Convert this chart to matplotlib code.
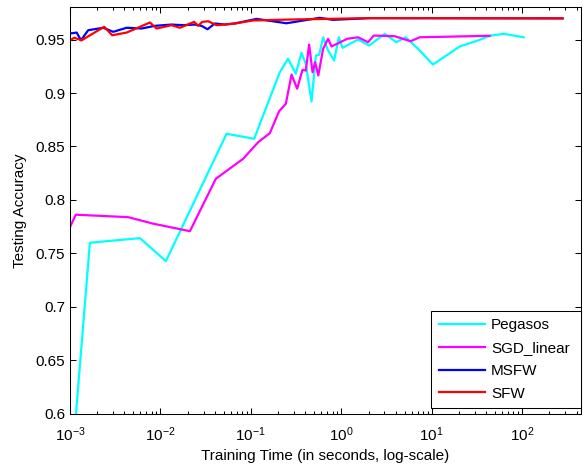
import numpy as np
import matplotlib
matplotlib.use("Agg")
import matplotlib.pyplot as plt
from matplotlib.ticker import FixedLocator, FuncFormatter, LogLocator

plt.rcParams['font.family'] = ['Liberation Sans', 'DejaVu Sans']
plt.rcParams['mathtext.fontset'] = 'custom'
plt.rcParams['mathtext.rm'] = 'Liberation Sans'
plt.rcParams['mathtext.it'] = 'Liberation Sans'

# values (time in seconds, accuracy)
pegasos_t = [0.00116, 0.00166, 0.00594, 0.0115, 0.0539, 0.1088, 0.209, 0.258, 0.314,
             0.363, 0.405, 0.469, 0.523, 0.569, 0.630, 0.715, 0.833, 0.938, 1.031,
             1.533, 2.03, 3.025, 4.07, 5.16, 7.06, 10.3, 20.4, 33.9, 43.7, 62.5, 104]
pegasos_acc = [0.598, 0.760, 0.7643, 0.7428, 0.8619, 0.8572, 0.9194, 0.932, 0.918,
               0.9376, 0.9273, 0.892, 0.935, 0.9357, 0.9521, 0.9397, 0.9304, 0.9521, 0.9422,
               0.950, 0.9444, 0.9553, 0.9475, 0.9521, 0.9413, 0.9266, 0.9435, 0.9497, 0.9535,
               0.9553, 0.9521]

sgd_t = [0.001, 0.00116, 0.00441, 0.00833, 0.0212, 0.0410, 0.0822, 0.1205, 0.162,
         0.2055, 0.2437, 0.282, 0.325, 0.3727, 0.405, 0.4411, 0.481, 0.5135, 0.557,
         0.630, 0.715, 0.779, 1.165, 1.533, 1.977, 2.286, 3.90, 5.82, 7.37, 43.7]
sgd_acc = [0.7746, 0.7862, 0.7839, 0.7778, 0.7708, 0.8198, 0.8385, 0.854, 0.8624,
           0.883, 0.8899, 0.9173, 0.904, 0.9217, 0.921, 0.9453, 0.9194, 0.9288, 0.9164,
           0.9413, 0.9507, 0.9435, 0.9507, 0.9521, 0.9475, 0.9537, 0.9531, 0.9484, 0.9521,
           0.9535]

msfw_t = [0.001, 0.001186, 0.001324, 0.00159, 0.002333, 0.00301, 0.00423, 0.0062,
          0.00869, 0.0133, 0.01787, 0.02404, 0.0285, 0.0332, 0.040, 0.0516, 0.0666,
          0.1156, 0.248, 0.578, 0.805, 2.07, 280]
msfw_acc = [0.9556, 0.9565, 0.9493, 0.9587, 0.961, 0.9572, 0.961, 0.9603,
            0.9628, 0.964, 0.9634, 0.964, 0.9628, 0.9596, 0.965, 0.964, 0.965,
            0.9693, 0.9652, 0.9703, 0.9684, 0.9700, 0.9698]

sfw_t = [0.001, 0.001116, 0.001346, 0.002393, 0.00293, 0.00423, 0.00766, 0.00908,
         0.0133, 0.0164, 0.0236, 0.0262, 0.029, 0.0338, 0.0418, 0.0666, 0.105, 0.27,
         2.07, 280]
sfw_acc = [0.9493, 0.9516, 0.9493, 0.9619, 0.954, 0.9565, 0.9659, 0.9603,
           0.9634, 0.961, 0.9665, 0.9628, 0.9665, 0.9671, 0.9634, 0.965, 0.9678, 0.9687,
           0.9700, 0.9698]

yticks = [0.6, 0.65, 0.7, 0.75, 0.8, 0.85, 0.9, 0.95]

fig = plt.figure(figsize=(5.83, 4.65), dpi=100)
ax = fig.add_axes([0.120, 0.110, 0.877, 0.874])

lw = 1.6
ax.plot(pegasos_t, pegasos_acc, color=(0, 1, 1), lw=lw, label='Pegasos')
ax.plot(sgd_t, sgd_acc, color=(1, 0, 1), lw=lw, label='SGD_linear')
ax.plot(msfw_t, msfw_acc, color=(0, 0, 1), lw=lw, label='MSFW')
ax.plot(sfw_t, sfw_acc, color=(1, 0, 0), lw=lw, label='SFW')

ax.set_xscale('log')
ax.set_xlim(1e-3, 450)
ax.set_ylim(0.6, 0.98)
ax.yaxis.set_major_locator(FixedLocator(yticks))
ax.yaxis.set_major_formatter(FuncFormatter(lambda v, p: '%g' % round(v, 2)))
ax.xaxis.set_major_locator(LogLocator(base=10, numticks=10))
ax.xaxis.set_minor_locator(LogLocator(base=10, subs=np.arange(2, 10), numticks=20))

ax.tick_params(which='both', direction='in', top=True, right=True, labelsize=11,
               width=0.75, colors='black')
ax.tick_params(which='major', length=4)
ax.tick_params(which='minor', length=2.5)
ax.tick_params(axis='x', pad=8)
for s in ax.spines.values():
    s.set_linewidth(0.75)

ax.set_xlabel('Training Time (in seconds, log-scale)', fontsize=11, labelpad=4)
ax.set_ylabel('Testing Accuracy', fontsize=11, labelpad=6)

leg = ax.legend(loc='lower left', bbox_to_anchor=(0.707, 0.0135, 0.293, 0.232),
                mode='expand', borderaxespad=0, fontsize=11, handlelength=3.0,
                handletextpad=0.4, labelspacing=0.58, borderpad=0.5,
                fancybox=False, framealpha=1, edgecolor='black')
leg.get_frame().set_linewidth(0.75)

fig.savefig('out.png', dpi=100)
